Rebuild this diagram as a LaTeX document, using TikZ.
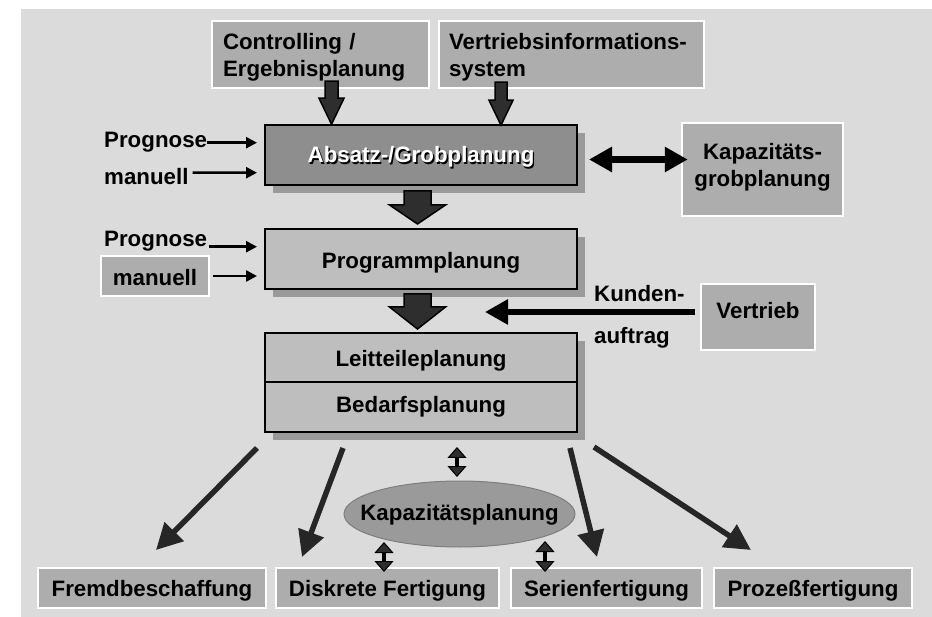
\documentclass[tikz,border=0pt]{standalone}
\usepackage{fontspec}
\setmainfont{Liberation Sans}
\usetikzlibrary{arrows.meta,shapes.geometric,shadows}

\definecolor{bgc}{HTML}{DBDBDB}
\definecolor{boxc}{HTML}{ADADAD}
\definecolor{absc}{HTML}{8E8E8E}
\definecolor{planc}{HTML}{BEBEBE}
\definecolor{shadowc}{HTML}{9A9A9A}
\definecolor{ellc}{HTML}{9A9A9A}
\definecolor{elld}{HTML}{7E7E7E}
\definecolor{blockc}{HTML}{2E2E2E}
\definecolor{flowc}{HTML}{262626}

% white text with a dark offset copy underneath
\newcommand\embossed[1]{\makebox[0pt][l]{\kern1.5pt\raisebox{-1.5pt}{\textcolor{black}{#1}}}#1}

\begin{document}
\begin{tikzpicture}[x=1pt,y=-1pt,
  every node/.style={font=\fontsize{22.3pt}{26.7pt}\selectfont\bfseries, inner sep=0pt},
  litebox/.style={draw=white, line width=2.5pt, fill=boxc, text height=22pt},
  planbox/.style={draw=black, line width=2pt, fill=planc, minimum width=312pt,
    text height=22pt, drop shadow={shadow xshift=8pt, shadow yshift=-8pt, fill=shadowc, opacity=1}},
  blockarrow/.style={fill=blockc, draw=black, line width=1.5pt, line join=miter},
  thinarr/.style={line width=2.5pt, -{Triangle[length=11pt,width=11pt]}},
  kundarr/.style={line width=6pt, -{Triangle[length=23pt,width=24pt]}},
  dblarr/.style={line width=7pt, {Triangle[length=23pt,width=24pt]}-{Triangle[length=23pt,width=24pt]}},
  flowarr/.style={line width=5.5pt, draw=flowc, -{Triangle[length=26pt,width=26pt,fill=flowc]}},
  smallarr/.style={line width=3.5pt,
    {Triangle[length=11pt,width=19pt,fill=blockc,line width=1pt]}-{Triangle[length=11pt,width=19pt,fill=blockc,line width=1pt]}},
  pics/blockdown/.style n args={4}{code={
    \filldraw[blockarrow] (-#1,0) -- (-#1,#3) -- (-#2,#3) -- (0,#3+#4)
      -- (#2,#3) -- (#1,#3) -- (#1,0) -- cycle;
  }}
]
\useasboundingbox (0,0) rectangle (932,617);
\fill[bgc] (21,9) rectangle (932,617);

% information sources
\node[litebox, minimum width=217pt, minimum height=67pt, text width=195pt, align=left,
  text depth=31pt] (ctrl) at (320.5,54.5) {Controlling /\\Ergebnisplanung};
\node[litebox, minimum width=265pt, minimum height=67pt, text width=245pt, align=left,
  text depth=31pt] (vis) at (571.5,54.5) {Vertriebsinformations-\\system};

% planning chain
\node[draw=black, line width=2pt, fill=absc, minimum width=312pt, minimum height=60pt,
  text=white, text height=22pt, text depth=6pt,
  drop shadow={shadow xshift=8pt, shadow yshift=-8pt, fill=shadowc, opacity=1}]
  (absatz) at (421,155) {\embossed{Absatz-/Grobplanung}};
\node[planbox, minimum height=60pt, text depth=3.4pt] (programm) at (421,259) {Programmplanung};
\node[planbox, minimum height=49pt, text depth=3.6pt] (leit) at (421,357.5) {Leitteileplanung};
\node[planbox, minimum height=50pt, text depth=11pt] (bedarf) at (421,407) {Bedarfsplanung};

% side boxes
\node[litebox, minimum width=161pt, minimum height=93pt, text width=150pt, align=center,
  text depth=41pt] (kapgrob) at (762.5,169.5) {Kapazitäts-\\grobplanung};
\node[litebox, minimum width=114pt, minimum height=66pt, text depth=18pt]
  (vertrieb) at (758,317) {Vertrieb};
\node[litebox, minimum width=108pt, minimum height=40pt, text depth=2.6pt]
  (man2) at (155,276) {manuell};

% free labels
\node[anchor=base west] (prog1) at (104,148) {Prognose};
\node[anchor=base west] (man1) at (104,185) {manuell};
\node[anchor=base west] (prog2) at (104,246.7) {Prognose};
\node[anchor=base west] (kunden) at (594,301.7) {Kunden-};
\node[anchor=base west] (auftrag) at (594,343.3) {auftrag};

% capacity planning
\node[ellipse, fill=ellc, draw=elld, line width=1pt, minimum width=231pt, minimum height=66pt,
  text height=22pt, text depth=10pt] (kap) at (459.5,514) {\makebox[0pt]{Kapazitätsplanung}};

% production types
\node[litebox, minimum width=228pt, minimum height=40pt, text depth=4.6pt] (fremd) at (152,588) {Fremdbeschaffung};
\node[litebox, minimum width=223pt, minimum height=40pt, text depth=4.6pt] (diskret) at (387.5,588) {Diskrete Fertigung};
\node[litebox, minimum width=191pt, minimum height=40pt, text depth=4.6pt] (serien) at (606.5,588) {Serienfertigung};
\node[litebox, minimum width=198pt, minimum height=40pt, text depth=4.6pt] (prozess) at (813,588) {Prozeßfertigung};

% broad flow arrows
\pic at ([shift={(11,-8)}]ctrl.south) {blockdown={6.5}{12.5}{17}{26}};
\pic at ([shift={(-70.5,-7)}]vis.south) {blockdown={6}{12}{18}{25}};
\pic at ([shift={(-3.5,5)}]absatz.south) {blockdown={13.5}{28}{14}{19}};
\pic at ([shift={(-3.5,4)}]programm.south) {blockdown={13.5}{28}{13}{22}};

% forecast inputs
\coordinate (in1) at (257,141);
\coordinate (in2) at (257,172.7);
\coordinate (in3) at (257,246.7);
\coordinate (in4) at (257,276);
\draw[thinarr] (prog1.east) -- (prog1.east -| in1);
\draw[thinarr] ([shift={(4,-4.3)}]man1.east) -- (in2);
\draw[thinarr] ([shift={(2,0)}]prog2.base east) -- (in3);
\draw[thinarr] ([shift={(3,0)}]man2.east) -- (in4);

% customer orders and rough capacity check
\coordinate (kundtip) at (485,312);
\draw[kundarr] ([shift={(-5,-5)}]vertrieb.west) -- (kundtip);
\draw[dblarr] ([shift={(11,4.5)}]absatz.east) -- ([shift={(7,-10)}]kapgrob.west);

% distribution to production types
\coordinate (f1s) at (257,448);  \coordinate (f1e) at (156,550);
\coordinate (f2s) at (343,448);  \coordinate (f2e) at (302,557);
\coordinate (f3s) at (570,448);  \coordinate (f3e) at (597,557);
\coordinate (f4s) at (594,447);  \coordinate (f4e) at (751,550);
\draw[flowarr] (f1s) -- (f1e);
\draw[flowarr] (f2s) -- (f2e);
\draw[flowarr] (f3s) -- (f3e);
\draw[flowarr] (f4s) -- (f4e);

% capacity links
\draw[smallarr] (457,447) -- (457,477);
\draw[smallarr] (384,542) -- (384,572);
\draw[smallarr] (545,541) -- (545,572);
\end{tikzpicture}
\end{document}
